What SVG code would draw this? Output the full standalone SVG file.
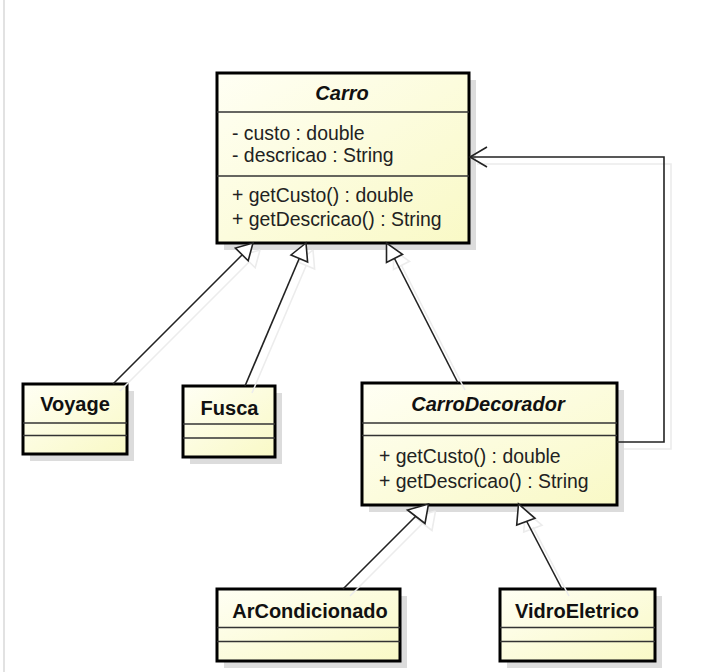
<svg xmlns="http://www.w3.org/2000/svg" width="702" height="672" viewBox="0 0 702 672">
<defs>
<linearGradient id="fillg" x1="0" y1="0" x2="1" y2="1">
<stop offset="0" stop-color="#fffff4"/>
<stop offset="1" stop-color="#f9f9c6"/>
</linearGradient>
<style>
.shadow{fill:#dcdcdc;}
.box{fill:url(#fillg);stroke:#000;stroke-width:3;}
.div{stroke:#333;stroke-width:1.5;fill:none;}
.title{font-family:"Liberation Sans",Arial,sans-serif;font-size:20px;font-weight:bold;fill:#111;text-anchor:middle;}
.it{font-style:italic;}
.mem{font-family:"Liberation Sans",Arial,sans-serif;font-size:19.4px;fill:#222;}
.line{stroke:#222;stroke-width:1.6;fill:none;}
.lshadow{stroke:#ececec;stroke-width:1.6;fill:none;}
.tri{fill:#fff;stroke:#222;stroke-width:1.6;stroke-linejoin:miter;}
.trish{fill:none;stroke:#ececec;stroke-width:1.6;}
</style>
</defs>
<rect width="702" height="672" fill="#fff"/>
<line x1="4" y1="0" x2="4" y2="672" stroke="#e2e2e2" stroke-width="2"/>

<g id="Carro">
<rect class="shadow" x="224" y="80" width="252" height="170"/>
<rect class="box" x="217" y="73" width="252" height="170"/>
<line class="div" x1="217" y1="112" x2="469" y2="112"/>
<line class="div" x1="217" y1="176" x2="469" y2="176"/>
<text class="title it" x="342" y="100">Carro</text>
<text class="mem" x="232" y="140">- custo : double</text>
<text class="mem" x="232" y="162">- descricao : String</text>
<text class="mem" x="232" y="202">+ getCusto() : double</text>
<text class="mem" x="232" y="226">+ getDescricao() : String</text>
</g>

<g id="Voyage">
<rect class="shadow" x="30" y="391" width="104" height="70"/>
<rect class="box" x="23" y="384" width="104" height="70"/>
<line class="div" x1="23" y1="423" x2="127" y2="423"/>
<line class="div" x1="23" y1="435.5" x2="127" y2="435.5"/>
<text class="title" x="75" y="411">Voyage</text>
</g>

<g id="Fusca">
<rect class="shadow" x="190" y="393" width="92" height="71"/>
<rect class="box" x="183" y="386" width="92" height="71"/>
<line class="div" x1="183" y1="424" x2="275" y2="424"/>
<line class="div" x1="183" y1="438" x2="275" y2="438"/>
<text class="title" x="229.5" y="415">Fusca</text>
</g>

<g id="CarroDecorador">
<rect class="shadow" x="369" y="390" width="255" height="122"/>
<rect class="box" x="362" y="383" width="255" height="122"/>
<line class="div" x1="362" y1="423" x2="617" y2="423"/>
<line class="div" x1="362" y1="435.5" x2="617" y2="435.5"/>
<text class="title it" x="488" y="411">CarroDecorador</text>
<text class="mem" x="379" y="463">+ getCusto() : double</text>
<text class="mem" x="379" y="488">+ getDescricao() : String</text>
</g>

<g id="ArCondicionado">
<rect class="shadow" x="224" y="596" width="183" height="72"/>
<rect class="box" x="217" y="589" width="183" height="72"/>
<line class="div" x1="217" y1="627.5" x2="400" y2="627.5"/>
<line class="div" x1="217" y1="641.5" x2="400" y2="641.5"/>
<text class="title" x="310" y="618">ArCondicionado</text>
</g>

<g id="VidroEletrico">
<rect class="shadow" x="507" y="596" width="155" height="72"/>
<rect class="box" x="500" y="589" width="155" height="72"/>
<line class="div" x1="500" y1="627.5" x2="655" y2="627.5"/>
<line class="div" x1="500" y1="641.5" x2="655" y2="641.5"/>
<text class="title" x="577" y="618">VidroEletrico</text>
</g>

<g id="connectors">
<g transform="translate(7,7)">
<polyline class="lshadow" points="113,384 242,255"/>
<polyline class="trish" points="253,243 235.4,248.1 248.2,260.7 253,243"/>
<polyline class="lshadow" points="245,386 299,259"/>
<polyline class="trish" points="306,243 291,255 307.6,262.1 306,243"/>
<polyline class="lshadow" points="458,383 394.5,258.5"/>
<polyline class="trish" points="386.5,243 386.5,262.5 402.5,254.3 386.5,243"/>
<polyline class="lshadow" points="343,589 416,516"/>
<polyline class="trish" points="428.5,504 407.5,510 425,523.5 428.5,504"/>
<polyline class="lshadow" points="562,589 526,520"/>
<polyline class="trish" points="518.5,504 516.7,525 535,518.3 518.5,504"/>
<polyline class="lshadow" points="617,442 664,442 664,157 470,157"/>
</g>
<line class="line" x1="113" y1="384" x2="242" y2="255"/>
<polygon class="tri" points="253,243 235.4,248.1 248.2,260.7"/>
<line class="line" x1="245" y1="386" x2="299" y2="259"/>
<polygon class="tri" points="306,243 291,255 307.6,262.1"/>
<line class="line" x1="458" y1="383" x2="394.5" y2="258.5"/>
<polygon class="tri" points="386.5,243 386.5,262.5 402.5,254.3"/>
<line class="line" x1="343" y1="589" x2="416" y2="516"/>
<polygon class="tri" points="428.5,504 407.5,510 425,523.5"/>
<line class="line" x1="562" y1="589" x2="526" y2="520"/>
<polygon class="tri" points="518.5,504 516.7,525 535,518.3"/>
<polyline class="line" points="617,442 664,442 664,157 470,157"/>
<polyline class="line" points="487,147 470,157 487,167"/>
</g>
</svg>
